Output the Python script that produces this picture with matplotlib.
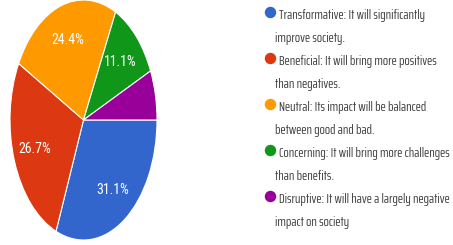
import matplotlib
matplotlib.use('Agg')
import matplotlib.pyplot as plt

# 数据
labels = [
    'Transformative: It will significantly\nimprove society.',
    'Beneficial: It will bring more positives\nthan negatives.',
    'Neutral: Its impact will be balanced\nbetween good and bad.',
    'Concerning: It will bring more challenges\nthan benefits.',
    'Disruptive: It will have a largely negative\nimpact on society',
]
values = [31.1, 26.7, 24.4, 11.1, 6.7]
colors = ['#3366cc', '#dc3912', '#ff9900', '#109618', '#990099']

# 窄字体
plt.rcParams['font.family'] = ['Saira ExtraCondensed', 'Roboto Condensed', 'DejaVu Sans']

fig = plt.figure(figsize=(4.53, 2.45), dpi=100)

# 饼图 (椭圆, 不保持纵横比)
ax = fig.add_axes([10 / 453, 5 / 245, 147 / 453, 240 / 245])
wedges, texts, autotexts = ax.pie(
    values, colors=colors, startangle=0, counterclock=False,
    autopct=lambda p: f'{p:.1f}%' if p >= 10 else '',
    pctdistance=0.7, wedgeprops=dict(edgecolor='white', linewidth=0.8),
    textprops=dict(color='white', fontsize=10,
                   family=['Roboto Condensed', 'DejaVu Sans']))
ax.set_aspect('auto')
ax.set_xlim(-1, 1)
ax.set_ylim(-1, 1)
ax.axis('off')

# 图例
lax = fig.add_axes([0, 0, 1, 1])
lax.set_xlim(0, 453)
lax.set_ylim(245, 0)
lax.axis('off')
for i, (lab, c) in enumerate(zip(labels, colors)):
    base = 19 + i * 46
    first, second = lab.split('\n')
    lax.scatter([270.5], [base - 6.5], s=68, color=c, edgecolors='none')
    lax.text(279, base, first, fontsize=10.1, color='#404040', va='baseline',
             ha='left', clip_on=False)
    lax.text(275, base + 23, second, fontsize=10.1, color='#404040',
             va='baseline', ha='left', clip_on=False)

fig.savefig('out.png', dpi=100)
